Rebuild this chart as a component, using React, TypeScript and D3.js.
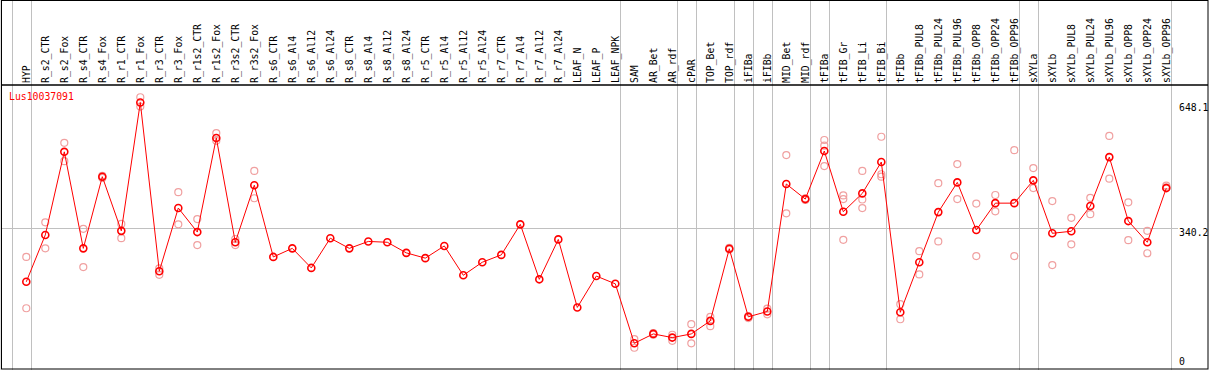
import * as d3 from "d3";
import React, { useEffect, useRef } from "react";

const geneName = "Lus10037091";

const samples = [
  "HYP", "R_s2_CTR", "R_s2_Fox", "R_s4_CTR", "R_s4_Fox", "R_r1_CTR", "R_r1_Fox",
  "R_r3_CTR", "R_r3_Fox", "R_r1s2_CTR", "R_r1s2_Fox", "R_r3s2_CTR", "R_r3s2_Fox",
  "R_s6_CTR", "R_s6_Al4", "R_s6_Al12", "R_s6_Al24", "R_s8_CTR", "R_s8_Al4",
  "R_s8_Al12", "R_s8_Al24", "R_r5_CTR", "R_r5_Al4", "R_r5_Al12", "R_r5_Al24",
  "R_r7_CTR", "R_r7_Al4", "R_r7_Al12", "R_r7_Al24", "LEAF_N", "LEAF_P", "LEAF_NPK",
  "SAM", "AR_Bet", "AR_rdf", "cPAR", "TOP_Bet", "TOP_rdf", "iFIBa", "iFIBb",
  "MID_Bet", "MID_rdf", "tFIBa", "tFIB_Gr", "tFIB_Li", "tFIB_Bi", "tFIBb",
  "tFIBb_PUL8", "tFIBb_PUL24", "tFIBb_PUL96", "tFIBb_OPP8", "tFIBb_OPP24",
  "tFIBb_OPP96", "sXYLa", "sXYLb", "sXYLb_PUL8", "sXYLb_PUL24", "sXYLb_PUL96",
  "sXYLb_OPP8", "sXYLb_OPP24", "sXYLb_OPP96",
];

// mean expression per sample
const means = [
  208, 323, 527, 290, 466, 333, 648.1, 234, 389, 330, 561, 305, 445,
  269, 290, 242, 315, 290, 307, 305, 279, 266, 296, 224, 256,
  274, 349, 214, 312, 145, 222, 203,
  57, 80, 71, 80, 112, 289, 122, 135,
  448, 411, 529, 380, 425, 502, 133,
  256, 379, 452, 335, 401, 401, 457, 327, 332, 394, 514, 357, 305, 438,
];

// individual replicates (empty = single sample)
const replicates: number[][] = [
  [269, 143], [354, 290], [549, 504], [338, 244], [468, 463], [350, 315], [661, 638],
  [241, 225], [428, 349], [362, 298], [573, 554], [313, 298], [480, 413],
  [], [], [], [], [], [], [], [], [], [], [], [],
  [], [], [], [], [], [], [],
  [67, 46], [82, 78], [78, 63], [104, 57], [122, 99], [291, 287], [124, 119], [142, 128],
  [519, 376], [413, 409], [556, 542, 492], [420, 411, 311], [480, 410, 389], [564, 472, 466], [153, 116],
  [283, 226], [450, 307], [497, 411], [400, 271], [421, 381], [531, 271],
  [487, 438], [406, 249], [365, 300], [414, 374], [566, 461], [403, 310], [333, 278], [444, 440],
];

const groupEnds = [
  "HYP", "R_r7_A124", "LEAF_NPK", "AR_rdf", "cPAR", "TOP_rdf", "iFIBa", "iFIBb",
  "MID_rdf", "tFIBa", "tFIB_Bi", "tFIBb_OPP96", "sXYLa", "sXYLb_OPP96",
];

const yTicks = [648.1, 340.2, 0];

const App: React.FC = () => {
  const ref = useRef<SVGSVGElement>(null);

  useEffect(() => {
    const width = 1209;
    const height = 370;
    const headerY = 85;
    const font = "'DejaVu Sans Mono', monospace";

    const svg = d3.select(ref.current);
    svg.selectAll("*").remove();

    const x = d3
      .scalePoint<string>()
      .domain(samples)
      .range([26.3, 1166.3]);
    const step = x.step();

    const y = d3.scaleLinear().domain([0, 648.1]).range([366.5, 102.5]);

    svg.append("rect").attr("width", width).attr("height", height).attr("fill", "#fff");

    // group separators
    const seps = [x(samples[0])! - step + 4.4, ...groupEnds.map((g) => x(g)! + 4.4)];
    svg
      .selectAll(".sep")
      .data(seps)
      .enter()
      .append("line")
      .attr("x1", (d) => Math.round(d) + 0.5)
      .attr("x2", (d) => Math.round(d) + 0.5)
      .attr("y1", 0)
      .attr("y2", height)
      .attr("stroke", "#c0c0c0")
      .attr("stroke-width", 1);

    // mid reference line
    svg
      .append("line")
      .attr("x1", 1)
      .attr("x2", 1178)
      .attr("y1", Math.round(y(340.2)) + 0.5)
      .attr("y2", Math.round(y(340.2)) + 0.5)
      .attr("stroke", "#c0c0c0");

    // frame
    svg
      .append("rect")
      .attr("x", 1.5)
      .attr("y", 0.5)
      .attr("width", 1206.5)
      .attr("height", 368.5)
      .attr("fill", "none")
      .attr("stroke", "#000")
      .attr("stroke-width", 1);
    svg
      .append("line")
      .attr("x1", 1)
      .attr("x2", 1208)
      .attr("y1", headerY)
      .attr("y2", headerY)
      .attr("stroke", "#000")
      .attr("stroke-width", 1.5);

    // column labels, reading bottom to top
    svg
      .selectAll(".lab")
      .data(samples)
      .enter()
      .append("text")
      .attr("transform", (d) => `translate(${x(d)},83) rotate(-90)`)
      .attr("dy", "0.35em")
      .attr("text-anchor", "start")
      .attr("font-family", font)
      .attr("font-size", "9.8px")
      .attr("fill", "#000")
      .text((d) => d);

    // y labels
    svg
      .selectAll(".ytick")
      .data(yTicks)
      .enter()
      .append("text")
      .attr("x", 1179)
      .attr("y", (d) => (d === 0 ? 365 : y(d) + 8))
      .attr("font-family", font)
      .attr("font-size", "9.8px")
      .attr("fill", "#000")
      .text((d) => String(d));

    svg
      .append("text")
      .attr("x", 9)
      .attr("y", 100)
      .attr("font-family", font)
      .attr("font-size", "9.8px")
      .attr("fill", "#ff0000")
      .text(geneName);

    // replicates
    const reps = samples.flatMap((s, i) => replicates[i].map((v) => ({ s, v })));
    svg
      .selectAll(".rep")
      .data(reps)
      .enter()
      .append("circle")
      .attr("cx", (d) => x(d.s)!)
      .attr("cy", (d) => y(d.v))
      .attr("r", 3.5)
      .attr("fill", "none")
      .attr("stroke", "#f0a0a0")
      .attr("stroke-width", 1.2);

    const line = d3
      .line<number>()
      .x((_, i) => x(samples[i])!)
      .y((d) => y(d));

    svg
      .append("path")
      .attr("d", line(means))
      .attr("fill", "none")
      .attr("stroke", "#ff0000")
      .attr("stroke-width", 1);

    svg
      .selectAll(".mean")
      .data(means)
      .enter()
      .append("circle")
      .attr("cx", (_, i) => x(samples[i])!)
      .attr("cy", (d) => y(d))
      .attr("r", 3.5)
      .attr("fill", "none")
      .attr("stroke", "#ff0000")
      .attr("stroke-width", 1.6);
  }, []);

  return (
    <svg
      ref={ref}
      width={1209}
      height={370}
      style={{ position: "absolute", left: 0, top: 0 }}
    />
  );
};

export default App;
